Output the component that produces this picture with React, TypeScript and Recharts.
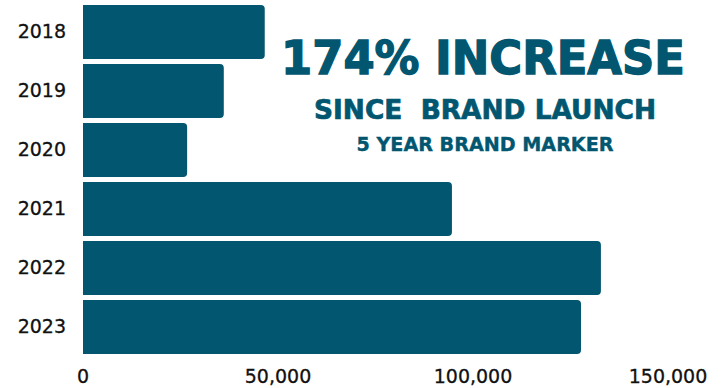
import React from "react";
import { BarChart, Bar, XAxis, YAxis } from "recharts";

const years = ["2018", "2019", "2020", "2021", "2022", "2023"];
const values = [46600, 36100, 26700, 94600, 132800, 127700];
const xTicks = [0, 50000, 100000, 150000];
const headline = "174% INCREASE";
const subline = "SINCE  BRAND LAUNCH";
const marker = "5 YEAR BRAND MARKER";

const data = years.map((y, i) => ({ year: y, value: values[i] }));

const COLOR = "#02566F";
const FONT = "'DejaVu Sans', sans-serif";

export default function App() {
  return (
    <div style={{ position: "absolute", left: 0, top: 0, width: 725, height: 388, background: "#fff" }}>
      <BarChart
        width={725}
        height={388}
        data={data}
        layout="vertical"
        margin={{ top: 2, right: 57, bottom: 2, left: 0 }}
      >
        <XAxis
          type="number"
          domain={[0, 150000]}
          ticks={xTicks}
          axisLine={false}
          tickLine={false}
          tickSize={0}
          tickMargin={14}
          height={30}
          interval={0}
          tickFormatter={(v: number) => v.toLocaleString("en-US")}
          tick={{ fill: "#111", fontSize: 19, fontFamily: FONT, stroke: "#111", strokeWidth: 0.3 }}
        />
        <YAxis
          type="category"
          dataKey="year"
          width={83}
          axisLine={false}
          tickLine={false}
          tickSize={0}
          tickMargin={17}
          tick={{ fill: "#111", fontSize: 19, fontFamily: FONT, stroke: "#111", strokeWidth: 0.3 }}
        />
        <Bar dataKey="value" fill={COLOR} barSize={54} radius={[0, 4, 4, 0]} isAnimationActive={false} />
      </BarChart>
      <svg width={725} height={388} style={{ position: "absolute", left: 0, top: 0, pointerEvents: "none" }}>
        <text x={483} y={74} textAnchor="middle" fill={COLOR} stroke={COLOR} strokeWidth={1.4} fontFamily={FONT} fontWeight={700} fontSize={47} textLength={404} lengthAdjust="spacingAndGlyphs">
          {headline}
        </text>
        <text x={485} y={119} textAnchor="middle" fill={COLOR} stroke={COLOR} strokeWidth={0.7} fontFamily={FONT} fontWeight={700} fontSize={27} textLength={342} lengthAdjust="spacingAndGlyphs" style={{ whiteSpace: "pre" }}>
          {subline}
        </text>
        <text x={485} y={151} textAnchor="middle" fill={COLOR} stroke={COLOR} strokeWidth={0.4} fontFamily={FONT} fontWeight={700} fontSize={20} textLength={257} lengthAdjust="spacingAndGlyphs">
          {marker}
        </text>
      </svg>
    </div>
  );
}
